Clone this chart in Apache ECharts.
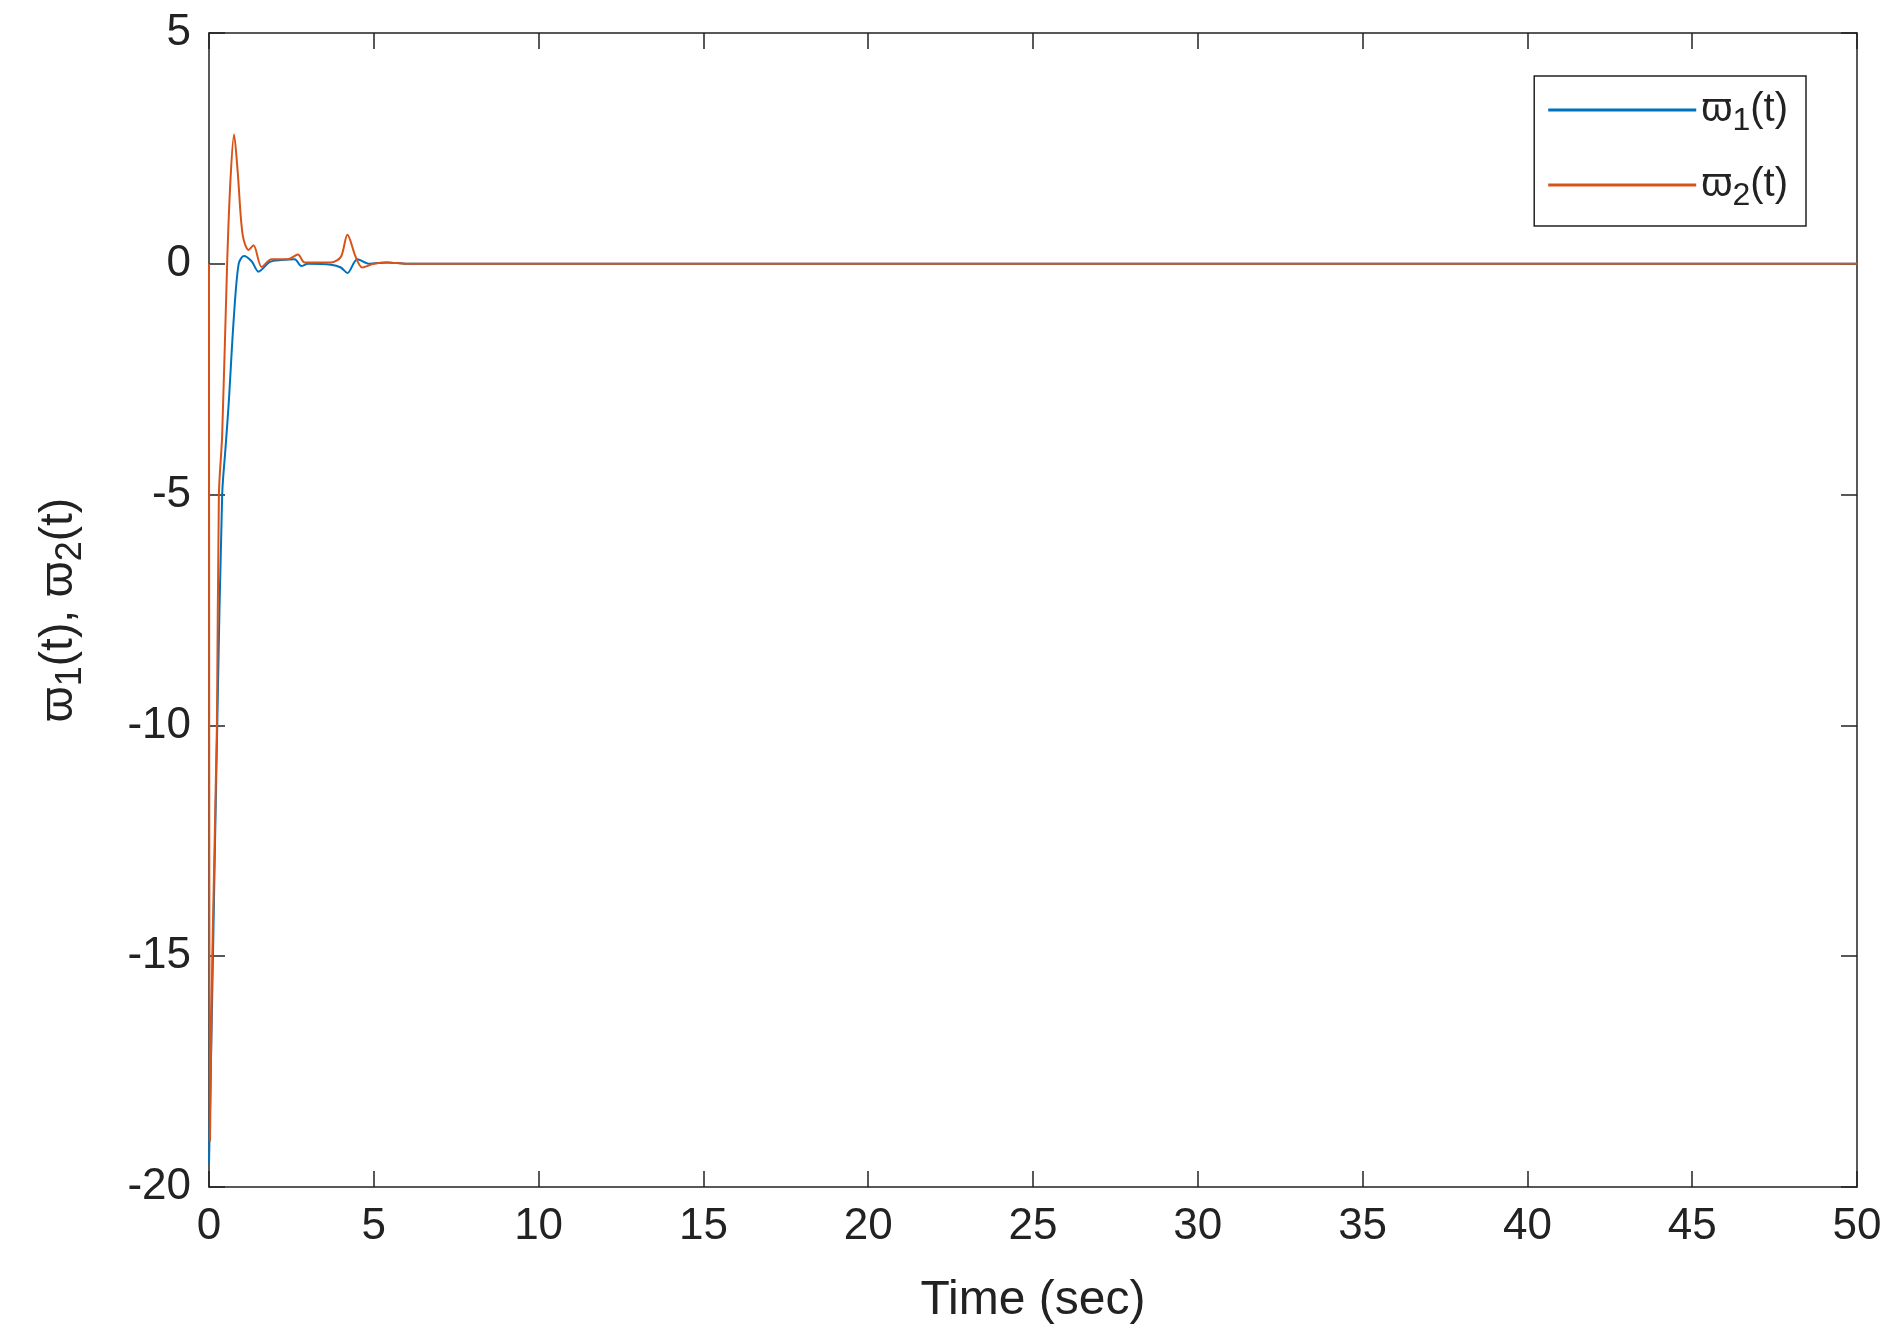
<!DOCTYPE html>
<html>
<head>
<meta charset="UTF-8">
<script src="https://cdn.jsdelivr.net/npm/echarts@6/dist/echarts.min.js"></script>
<style>html,body{margin:0;padding:0;background:#fff}#chart{width:1897px;height:1342px}</style>
</head>
<body>
<div id="chart"></div>
<script>
// time (sec) and values
var t1 = [0, 0.12, 0.25, 0.4, 0.5, 0.6, 0.75, 0.9, 1.06, 1.3, 1.5, 1.85, 2.2, 2.6, 2.8, 3.0, 3.7, 4.0, 4.2, 4.5, 4.85, 5.4, 6, 50];
var v1 = [-19.5, -15, -10, -5, -4, -3, -1.2, 0, 0.17, 0.05, -0.17, 0.04, 0.08, 0.1, -0.05, 0, -0.02, -0.08, -0.2, 0.1, 0, 0.03, 0, 0];
var t2 = [0, 0.03, 0.1, 0.24, 0.3, 0.4, 0.55, 0.65, 0.76, 0.87, 1.02, 1.2, 1.35, 1.6, 1.9, 2.4, 2.7, 2.9, 3.7, 4.0, 4.2, 4.45, 4.65, 5.0, 5.4, 6, 50];
var v2 = [0, -19, -15, -10, -5, -3.7, 0, 1.8, 2.8, 2.0, 0.63, 0.3, 0.4, -0.07, 0.1, 0.1, 0.2, 0.03, 0.03, 0.15, 0.63, 0.15, -0.08, 0.0, 0.03, 0, 0];
var xTicks = [0, 50, 5];
var yTicks = [-20, 5, 5];

function pairs(t, v) { return t.map(function (x, i) { return [x, v[i]]; }); }

var font = 'Liberation Sans';
var line = {onZero: false, lineStyle: {color: '#222', width: 1.5}};
var tick = {inside: true, length: 16, lineStyle: {color: '#222', width: 1.5}};
var chart = echarts.init(document.getElementById('chart'));
chart.setOption({
  animation: false,
  backgroundColor: '#fff',
  grid: {left: 209, right: 40, top: 33, bottom: 155},
  legend: {
    right: 91, top: 76, orient: 'vertical',
    borderColor: '#222', borderWidth: 1.5, backgroundColor: '#fff',
    padding: [14, 18, 14, 14], itemGap: 28, itemWidth: 148, itemHeight: 3,
    icon: 'rect',
    textStyle: {fontSize: 40, fontFamily: font, color: '#222', rich: {s: {fontSize: 32, fontFamily: font, color: '#222', padding: [22, 0, 0, 0]}}},
    formatter: function (n) { return n === 'a' ? 'ϖ{s|1}(t)' : 'ϖ{s|2}(t)'; },
    data: ['a', 'b']
  },
  xAxis: [{
    type: 'value', min: xTicks[0], max: xTicks[1], interval: xTicks[2],
    name: 'Time (sec)', nameLocation: 'middle', nameGap: 90,
    nameTextStyle: {fontSize: 48, fontFamily: font, color: '#222'},
    axisLine: line, axisTick: tick,
    axisLabel: {fontSize: 44, fontFamily: font, color: '#222', margin: 18},
    splitLine: {show: false}
  }, {
    type: 'value', position: 'top', min: xTicks[0], max: xTicks[1], interval: xTicks[2],
    axisLine: line, axisTick: tick,
    axisLabel: {show: false}, splitLine: {show: false}
  }],
  yAxis: [{
    type: 'value', min: yTicks[0], max: yTicks[1], interval: yTicks[2],
    name: 'ϖ{s|1}(t), ϖ{s|2}(t)', nameLocation: 'middle', nameGap: 120, nameRotate: 90,
    nameTextStyle: {fontSize: 46, fontFamily: font, color: '#222', rich: {s: {fontSize: 36, fontFamily: font, color: '#222', padding: [24, 0, 0, 0]}}},
    axisLine: line, axisTick: tick,
    axisLabel: {fontSize: 44, fontFamily: font, color: '#222', margin: 18},
    splitLine: {show: false}
  }, {
    type: 'value', position: 'right', min: yTicks[0], max: yTicks[1], interval: yTicks[2],
    axisLine: line, axisTick: tick,
    axisLabel: {show: false}, splitLine: {show: false}
  }],
  series: [
    {name: 'a', type: 'line', data: pairs(t1, v1), smooth: 0.3, showSymbol: false,
      lineStyle: {color: '#0072BD', width: 2}, itemStyle: {color: '#0072BD'}},
    {name: 'b', type: 'line', data: pairs(t2, v2), smooth: 0.3, showSymbol: false,
      lineStyle: {color: '#D95319', width: 2}, itemStyle: {color: '#D95319'}}
  ]
});
</script>
</body>
</html>
